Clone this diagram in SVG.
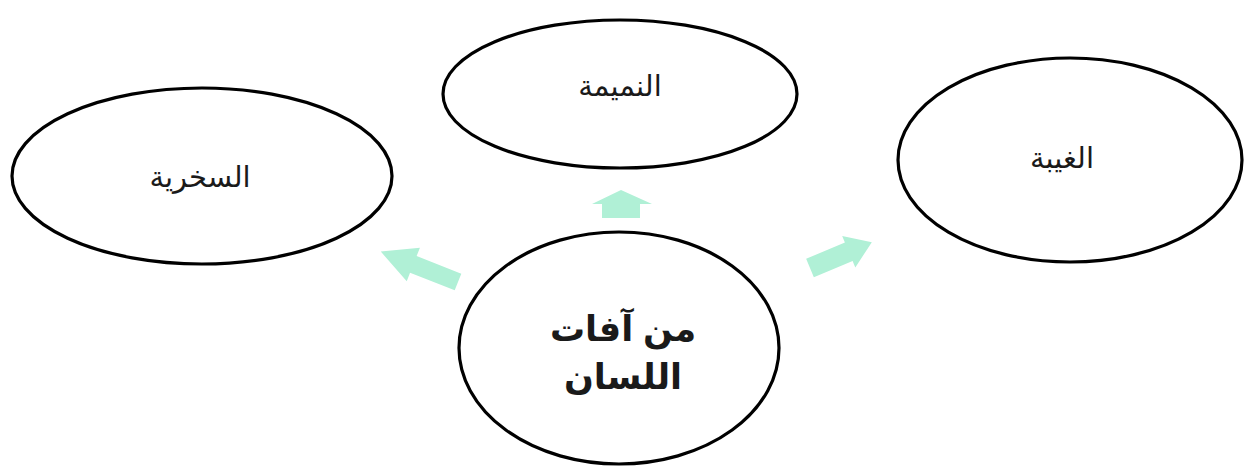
<svg xmlns="http://www.w3.org/2000/svg" width="1248" height="469" viewBox="0 0 1248 469">
<style>
.node{fill:#ffffff;stroke:#000000;stroke-width:3.2}
.lbl{font-family:"Liberation Sans","DejaVu Sans",Arial,sans-serif;font-size:29px;fill:#1a1a1a;text-anchor:middle}
.big{font-family:"Liberation Sans","DejaVu Sans",Arial,sans-serif;font-size:35px;font-weight:bold;fill:#1a1a1a;text-anchor:middle}
.arr{fill:#b0f0d6}
</style>
<rect width="1248" height="469" fill="#ffffff"/>
<g id="connectors">
<polygon class="arr" transform="translate(458,282) rotate(201.5)" points="0,-9 48,-9 48,-18 83,0 48,18 48,9 0,9"/>
<polygon class="arr" points="602,218 602,204 592,204 621,190 652,204 640,204 640,218"/>
<polygon class="arr" transform="translate(810,268) rotate(-22.7)" points="0,-10 42,-10 42,-17 67,0 42,17 42,10 0,10"/>
</g>
<g id="node-sukhriya">
<ellipse class="node" cx="202" cy="176" rx="190" ry="88"/>
<text class="lbl" x="200" y="187">السخرية</text>
</g>
<g id="node-namima">
<ellipse class="node" cx="620" cy="94" rx="177" ry="74"/>
<text class="lbl" x="620" y="96">النميمة</text>
</g>
<g id="node-ghiba">
<ellipse class="node" cx="1070" cy="160" rx="172" ry="102"/>
<text class="lbl" x="1062" y="168">الغيبة</text>
</g>
<g id="node-center">
<ellipse class="node" cx="619" cy="348" rx="160" ry="116"/>
<text class="big" x="623" y="341">من آفات</text>
<text class="big" x="623" y="389">اللسان</text>
</g>
</svg>
